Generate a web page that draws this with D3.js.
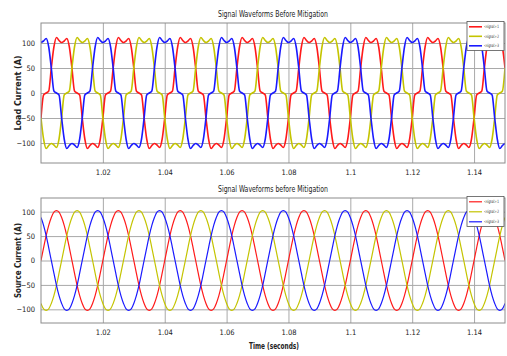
<!DOCTYPE html>
<html>
<head>
<meta charset="utf-8">
<script src="https://cdn.jsdelivr.net/npm/d3@7"></script>
<style>
  body { margin: 0; background: #fff; }
  text { font-family: "Liberation Sans Narrow", "DejaVu Sans Condensed", "Liberation Sans", sans-serif; }
</style>
</head>
<body>
<svg id="chart" width="507" height="356"></svg>
<script>
// sample instants (s), one row per 50 Hz cycle, read at 15 degree steps
var time = [
  1.00000, 1.00083, 1.00167, 1.00250, 1.00333, 1.00417, 1.00500, 1.00583, 1.00667, 1.00750, 1.00833, 1.00917, 1.01000, 1.01083, 1.01167, 1.01250, 1.01333, 1.01417, 1.01500, 1.01583, 1.01667, 1.01750, 1.01833, 1.01917,
  1.02000, 1.02083, 1.02167, 1.02250, 1.02333, 1.02417, 1.02500, 1.02583, 1.02667, 1.02750, 1.02833, 1.02917, 1.03000, 1.03083, 1.03167, 1.03250, 1.03333, 1.03417, 1.03500, 1.03583, 1.03667, 1.03750, 1.03833, 1.03917,
  1.04000, 1.04083, 1.04167, 1.04250, 1.04333, 1.04417, 1.04500, 1.04583, 1.04667, 1.04750, 1.04833, 1.04917, 1.05000, 1.05083, 1.05167, 1.05250, 1.05333, 1.05417, 1.05500, 1.05583, 1.05667, 1.05750, 1.05833, 1.05917,
  1.06000, 1.06083, 1.06167, 1.06250, 1.06333, 1.06417, 1.06500, 1.06583, 1.06667, 1.06750, 1.06833, 1.06917, 1.07000, 1.07083, 1.07167, 1.07250, 1.07333, 1.07417, 1.07500, 1.07583, 1.07667, 1.07750, 1.07833, 1.07917,
  1.08000, 1.08083, 1.08167, 1.08250, 1.08333, 1.08417, 1.08500, 1.08583, 1.08667, 1.08750, 1.08833, 1.08917, 1.09000, 1.09083, 1.09167, 1.09250, 1.09333, 1.09417, 1.09500, 1.09583, 1.09667, 1.09750, 1.09833, 1.09917,
  1.10000, 1.10083, 1.10167, 1.10250, 1.10333, 1.10417, 1.10500, 1.10583, 1.10667, 1.10750, 1.10833, 1.10917, 1.11000, 1.11083, 1.11167, 1.11250, 1.11333, 1.11417, 1.11500, 1.11583, 1.11667, 1.11750, 1.11833, 1.11917,
  1.12000, 1.12083, 1.12167, 1.12250, 1.12333, 1.12417, 1.12500, 1.12583, 1.12667, 1.12750, 1.12833, 1.12917, 1.13000, 1.13083, 1.13167, 1.13250, 1.13333, 1.13417, 1.13500, 1.13583, 1.13667, 1.13750, 1.13833, 1.13917,
  1.14000, 1.14083, 1.14167, 1.14250, 1.14333, 1.14417, 1.14500, 1.14583, 1.14667, 1.14750, 1.14833, 1.14917, 1.15000
];

// load current (A), signal 1..3
var load1 = [
  -50, -4, 0, 4, 50, 92, 111, 105, 101, 104, 109, 92, 50, 4, 0, -4, -50, -92, -111, -105, -101, -104, -109, -92,
  -50, -4, 0, 4, 50, 92, 111, 105, 101, 104, 109, 92, 50, 4, 0, -4, -50, -92, -111, -105, -101, -104, -109, -92,
  -50, -4, 0, 4, 50, 92, 111, 105, 101, 104, 109, 92, 50, 4, 0, -4, -50, -92, -111, -105, -101, -104, -109, -92,
  -50, -4, 0, 4, 50, 92, 111, 105, 101, 104, 109, 92, 50, 4, 0, -4, -50, -92, -111, -105, -101, -104, -109, -92,
  -50, -4, 0, 4, 50, 92, 111, 105, 101, 104, 109, 92, 50, 4, 0, -4, -50, -92, -111, -105, -101, -104, -109, -92,
  -50, -4, 0, 4, 50, 92, 111, 105, 101, 104, 109, 92, 50, 4, 0, -4, -50, -92, -111, -105, -101, -104, -109, -92,
  -50, -4, 0, 4, 50, 92, 111, 105, 101, 104, 109, 92, 50, 4, 0, -4, -50, -92, -111, -105, -101, -104, -109, -92,
  -50, -4, 0, 4, 50, 92, 111, 105, 101, 104, 109, 92, 50
];
var load2 = [
  -50, -92, -111, -105, -101, -104, -109, -92, -50, -4, 0, 4, 50, 92, 111, 105, 101, 104, 109, 92, 50, 4, 0, -4,
  -50, -92, -111, -105, -101, -104, -109, -92, -50, -4, 0, 4, 50, 92, 111, 105, 101, 104, 109, 92, 50, 4, 0, -4,
  -50, -92, -111, -105, -101, -104, -109, -92, -50, -4, 0, 4, 50, 92, 111, 105, 101, 104, 109, 92, 50, 4, 0, -4,
  -50, -92, -111, -105, -101, -104, -109, -92, -50, -4, 0, 4, 50, 92, 111, 105, 101, 104, 109, 92, 50, 4, 0, -4,
  -50, -92, -111, -105, -101, -104, -109, -92, -50, -4, 0, 4, 50, 92, 111, 105, 101, 104, 109, 92, 50, 4, 0, -4,
  -50, -92, -111, -105, -101, -104, -109, -92, -50, -4, 0, 4, 50, 92, 111, 105, 101, 104, 109, 92, 50, 4, 0, -4,
  -50, -92, -111, -105, -101, -104, -109, -92, -50, -4, 0, 4, 50, 92, 111, 105, 101, 104, 109, 92, 50, 4, 0, -4,
  -50, -92, -111, -105, -101, -104, -109, -92, -50, -4, 0, 4, 50
];
var load3 = [
  101, 104, 109, 92, 50, 4, 0, -4, -50, -92, -111, -105, -101, -104, -109, -92, -50, -4, 0, 4, 50, 92, 111, 105,
  101, 104, 109, 92, 50, 4, 0, -4, -50, -92, -111, -105, -101, -104, -109, -92, -50, -4, 0, 4, 50, 92, 111, 105,
  101, 104, 109, 92, 50, 4, 0, -4, -50, -92, -111, -105, -101, -104, -109, -92, -50, -4, 0, 4, 50, 92, 111, 105,
  101, 104, 109, 92, 50, 4, 0, -4, -50, -92, -111, -105, -101, -104, -109, -92, -50, -4, 0, 4, 50, 92, 111, 105,
  101, 104, 109, 92, 50, 4, 0, -4, -50, -92, -111, -105, -101, -104, -109, -92, -50, -4, 0, 4, 50, 92, 111, 105,
  101, 104, 109, 92, 50, 4, 0, -4, -50, -92, -111, -105, -101, -104, -109, -92, -50, -4, 0, 4, 50, 92, 111, 105,
  101, 104, 109, 92, 50, 4, 0, -4, -50, -92, -111, -105, -101, -104, -109, -92, -50, -4, 0, 4, 50, 92, 111, 105,
  101, 104, 109, 92, 50, 4, 0, -4, -50, -92, -111, -105, -101
];

// source current (A), signal 1..3
var source1 = [
  0, 26, 51, 72, 88, 99, 102, 99, 88, 72, 51, 26, 0, -26, -51, -72, -88, -99, -102, -99, -88, -72, -51, -26,
  0, 26, 51, 72, 88, 99, 102, 99, 88, 72, 51, 26, 0, -26, -51, -72, -88, -99, -102, -99, -88, -72, -51, -26,
  0, 26, 51, 72, 88, 99, 102, 99, 88, 72, 51, 26, 0, -26, -51, -72, -88, -99, -102, -99, -88, -72, -51, -26,
  0, 26, 51, 72, 88, 99, 102, 99, 88, 72, 51, 26, 0, -26, -51, -72, -88, -99, -102, -99, -88, -72, -51, -26,
  0, 26, 51, 72, 88, 99, 102, 99, 88, 72, 51, 26, 0, -26, -51, -72, -88, -99, -102, -99, -88, -72, -51, -26,
  0, 26, 51, 72, 88, 99, 102, 99, 88, 72, 51, 26, 0, -26, -51, -72, -88, -99, -102, -99, -88, -72, -51, -26,
  0, 26, 51, 72, 88, 99, 102, 99, 88, 72, 51, 26, 0, -26, -51, -72, -88, -99, -102, -99, -88, -72, -51, -26,
  0, 26, 51, 72, 88, 99, 102, 99, 88, 72, 51, 26, 0
];
var source2 = [
  -88, -99, -102, -99, -88, -72, -51, -26, 0, 26, 51, 72, 88, 99, 102, 99, 88, 72, 51, 26, 0, -26, -51, -72,
  -88, -99, -102, -99, -88, -72, -51, -26, 0, 26, 51, 72, 88, 99, 102, 99, 88, 72, 51, 26, 0, -26, -51, -72,
  -88, -99, -102, -99, -88, -72, -51, -26, 0, 26, 51, 72, 88, 99, 102, 99, 88, 72, 51, 26, 0, -26, -51, -72,
  -88, -99, -102, -99, -88, -72, -51, -26, 0, 26, 51, 72, 88, 99, 102, 99, 88, 72, 51, 26, 0, -26, -51, -72,
  -88, -99, -102, -99, -88, -72, -51, -26, 0, 26, 51, 72, 88, 99, 102, 99, 88, 72, 51, 26, 0, -26, -51, -72,
  -88, -99, -102, -99, -88, -72, -51, -26, 0, 26, 51, 72, 88, 99, 102, 99, 88, 72, 51, 26, 0, -26, -51, -72,
  -88, -99, -102, -99, -88, -72, -51, -26, 0, 26, 51, 72, 88, 99, 102, 99, 88, 72, 51, 26, 0, -26, -51, -72,
  -88, -99, -102, -99, -88, -72, -51, -26, 0, 26, 51, 72, 88
];
var source3 = [
  88, 72, 51, 26, 0, -26, -51, -72, -88, -99, -102, -99, -88, -72, -51, -26, 0, 26, 51, 72, 88, 99, 102, 99,
  88, 72, 51, 26, 0, -26, -51, -72, -88, -99, -102, -99, -88, -72, -51, -26, 0, 26, 51, 72, 88, 99, 102, 99,
  88, 72, 51, 26, 0, -26, -51, -72, -88, -99, -102, -99, -88, -72, -51, -26, 0, 26, 51, 72, 88, 99, 102, 99,
  88, 72, 51, 26, 0, -26, -51, -72, -88, -99, -102, -99, -88, -72, -51, -26, 0, 26, 51, 72, 88, 99, 102, 99,
  88, 72, 51, 26, 0, -26, -51, -72, -88, -99, -102, -99, -88, -72, -51, -26, 0, 26, 51, 72, 88, 99, 102, 99,
  88, 72, 51, 26, 0, -26, -51, -72, -88, -99, -102, -99, -88, -72, -51, -26, 0, 26, 51, 72, 88, 99, 102, 99,
  88, 72, 51, 26, 0, -26, -51, -72, -88, -99, -102, -99, -88, -72, -51, -26, 0, 26, 51, 72, 88, 99, 102, 99,
  88, 72, 51, 26, 0, -26, -51, -72, -88, -99, -102, -99, -88
];

var xTicks = [1.02, 1.04, 1.06, 1.08, 1.1, 1.12, 1.14];
var yTicks = [-100, -50, 0, 50, 100];
var signalNames = ["<signal>:1", "<signal>:2", "<signal>:3"];

var colors = ["#ff1a1a", "#c4c400", "#1a1aff"];
var svg = d3.select("#chart");
var x = d3.scaleLinear().domain([1.0, 1.15]).range([41, 505]);

function panel(id, top, bottom, yDomain, series, title, yLabel, lineWidth, legendTop, legendH) {
  var y = d3.scaleLinear().domain(yDomain).range([bottom, top]);
  var g = svg.append("g");

  g.append("clipPath").attr("id", id).append("rect")
    .attr("x", 41).attr("y", top).attr("width", 464).attr("height", bottom - top);

  // grid
  g.append("g").attr("transform", "translate(0," + bottom + ")")
    .call(d3.axisBottom(x).tickValues(xTicks).tickSize(-(bottom - top)).tickFormat(""))
    .call(function(a) { a.select(".domain").remove(); a.selectAll("line").attr("stroke", "#a9a9a9"); });
  g.append("g").attr("transform", "translate(41,0)")
    .call(d3.axisLeft(y).tickValues(yTicks).tickSize(-464).tickFormat(""))
    .call(function(a) { a.select(".domain").remove(); a.selectAll("line").attr("stroke", "#a9a9a9"); });

  // tick labels
  g.append("g").attr("transform", "translate(0," + bottom + ")")
    .call(d3.axisBottom(x).tickValues(xTicks).tickSize(0).tickPadding(7).tickFormat(d3.format("")))
    .call(function(a) { a.select(".domain").remove(); a.selectAll("text").attr("font-size", 7.5).attr("fill", "#222"); });
  g.append("g").attr("transform", "translate(41,0)")
    .call(d3.axisLeft(y).tickValues(yTicks).tickSize(0).tickPadding(6))
    .call(function(a) { a.select(".domain").remove(); a.selectAll("text").attr("font-size", 7.5).attr("fill", "#222"); });

  var line = d3.line().x(function(d, i) { return x(time[i]); }).y(function(d) { return y(d); })
    .curve(d3.curveMonotoneX);
  g.append("g").attr("clip-path", "url(#" + id + ")")
    .selectAll("path").data(series).join("path")
    .attr("d", line).attr("fill", "none")
    .attr("stroke", function(d, i) { return colors[i]; })
    .attr("stroke-width", lineWidth).attr("stroke-linejoin", "round");

  g.append("rect").attr("x", 41).attr("y", top).attr("width", 464).attr("height", bottom - top)
    .attr("fill", "none").attr("stroke", "#8c8c8c").attr("stroke-width", 1);

  g.append("text").attr("x", 218).attr("y", top - 6).attr("font-size", 9)
    .attr("textLength", 110).attr("lengthAdjust", "spacingAndGlyphs").attr("fill", "#222").text(title);

  g.append("text").attr("transform", "translate(21," + ((top + bottom) / 2) + ") rotate(-90)")
    .attr("text-anchor", "middle").attr("font-size", 8.5).attr("font-weight", "bold")
    .attr("textLength", 75).attr("lengthAdjust", "spacingAndGlyphs").attr("fill", "#222").text(yLabel);

  // legend
  var lg = g.append("g").attr("transform", "translate(467," + legendTop + ")");
  lg.append("rect").attr("width", 37).attr("height", legendH).attr("fill", "#fff").attr("stroke", "#555").attr("stroke-width", 0.8);
  signalNames.forEach(function(name, i) {
    var yy = 5.3 + i * (legendH - 10) / 2;
    lg.append("line").attr("x1", 2).attr("x2", 15).attr("y1", yy).attr("y2", yy)
      .attr("stroke", colors[i]).attr("stroke-width", lineWidth);
    lg.append("text").attr("x", 17).attr("y", yy + 1.5).attr("font-size", 4.5)
      .attr("textLength", 15).attr("lengthAdjust", "spacingAndGlyphs").attr("fill", "#222").text(name);
  });
}

panel("clipLoad", 23, 163, [-140, 140], [load1, load2, load3],
  "Signal Waveforms Before Mitigation", "Load Current (A)", 1.6, 21.5, 29);
panel("clipSource", 198, 323, [-128, 128], [source1, source2, source3],
  "Signal Waveforms before Mitigation", "Source Current (A)", 1.2, 196.5, 30);

svg.append("text").attr("x", 249).attr("y", 349).attr("font-size", 8.5).attr("font-weight", "bold")
  .attr("textLength", 50).attr("lengthAdjust", "spacingAndGlyphs").attr("fill", "#222").text("Time (seconds)");
</script>
</body>
</html>
